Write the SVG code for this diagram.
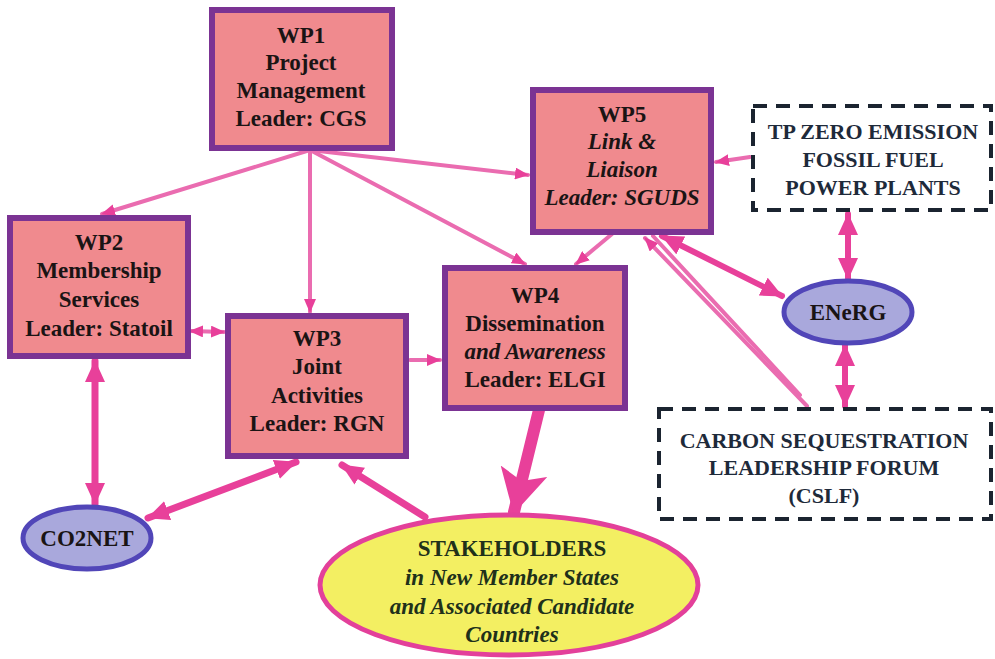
<svg xmlns="http://www.w3.org/2000/svg" width="995" height="659" viewBox="0 0 995 659">
<defs>
<style>
.wp rect{fill:#f08a8e;stroke:#7b3393;stroke-width:6}
text{font-weight:bold;font-size:23px;fill:#1a1414;text-anchor:middle}
.i{font-style:italic}
.dash rect{fill:#ffffff;stroke:#1b2430;stroke-width:4;stroke-dasharray:14 9}
.dash text{fill:#1e2a3a;font-size:22px}
.ov ellipse{fill:#a9a8dc;stroke:#5146b8;stroke-width:5}
.st ellipse{fill:#f3ef62;stroke:#e3409a;stroke-width:5}
.st text{fill:#20301a}
.c{fill:none;stroke:#e8409a;stroke-linecap:round}
.thin{stroke:#ea6cb0;stroke-width:4}
.med{stroke-width:6}
.hvy{stroke-width:7}
</style>
<marker id="s" markerUnits="userSpaceOnUse" markerWidth="14" markerHeight="12" refX="13" refY="6" orient="auto-start-reverse"><path d="M0,0 L14,6 L0,12 z" fill="#e8409a"/></marker>
<marker id="m" markerUnits="userSpaceOnUse" markerWidth="22" markerHeight="20" refX="21" refY="10" orient="auto-start-reverse"><path d="M0,0 L22,10 L0,20 z" fill="#e8409a"/></marker>
<marker id="b" markerUnits="userSpaceOnUse" markerWidth="44" markerHeight="48" refX="42" refY="24" orient="auto"><path d="M0,0 L44,24 L0,48 L10,24 z" fill="#e8409a"/></marker>
</defs>
<rect width="995" height="659" fill="#ffffff"/>

<g id="connectors">
<line class="c thin" x1="310" y1="150" x2="102" y2="214" marker-end="url(#s)"/>
<line class="c thin" x1="310" y1="150" x2="310" y2="312" marker-end="url(#s)"/>
<line class="c thin" x1="310" y1="150" x2="528" y2="175" marker-end="url(#s)"/>
<line class="c thin" x1="310" y1="150" x2="525" y2="264" marker-end="url(#s)"/>
<line class="c thin" x1="612" y1="234" x2="576" y2="264" marker-end="url(#s)"/>
<line class="c thin" x1="750" y1="157" x2="716" y2="162" marker-end="url(#s)"/>
<line class="c thin" x1="190" y1="331" x2="224" y2="332" marker-start="url(#s)" marker-end="url(#s)"/>
<line class="c thin" x1="410" y1="360" x2="440" y2="360" marker-end="url(#s)"/>
<line class="c thin" x1="645" y1="238" x2="807" y2="406" stroke-width="3" marker-start="url(#s)"/>
<line class="c thin" x1="653" y1="236" x2="800" y2="395" stroke-width="2"/>
<line class="c med" x1="662" y1="236" x2="782" y2="296" marker-start="url(#m)" marker-end="url(#m)"/>
<line class="c med" x1="848" y1="214" x2="848" y2="279" marker-start="url(#m)" marker-end="url(#m)"/>
<line class="c med" x1="845" y1="345" x2="845" y2="406" marker-start="url(#m)" marker-end="url(#m)"/>
<line class="c hvy" x1="95" y1="361" x2="95" y2="504" marker-start="url(#m)" marker-end="url(#m)"/>
<line class="c hvy" x1="296" y1="462" x2="148" y2="518" marker-start="url(#m)" marker-end="url(#m)"/>
<line class="c hvy" x1="425" y1="517" x2="342" y2="465" marker-end="url(#m)"/>
<line class="c" x1="539" y1="410" x2="514" y2="512" stroke-width="12" marker-end="url(#b)"/>
</g>

<g font-family="Liberation Serif, DejaVu Serif, serif">
<g id="wp1" class="wp"><rect x="212" y="10" width="180" height="138"/>
<text x="301" y="43">WP1</text><text x="301" y="70">Project</text><text x="301" y="98">Management</text><text x="301" y="126">Leader: CGS</text></g>

<g id="wp2" class="wp"><rect x="10" y="218" width="178" height="138"/>
<text x="99" y="250">WP2</text><text x="99" y="278">Membership</text><text x="99" y="307">Services</text><text x="99" y="336">Leader: Statoil</text></g>

<g id="wp3" class="wp"><rect x="228" y="316" width="178" height="140"/>
<text x="317" y="346">WP3</text><text x="317" y="374">Joint</text><text x="317" y="403">Activities</text><text x="317" y="431">Leader: RGN</text></g>

<g id="wp4" class="wp"><rect x="445" y="268" width="180" height="140"/>
<text x="535" y="303">WP4</text><text x="535" y="331">Dissemination</text><text class="i" x="535" y="359">and Awareness</text><text x="535" y="387">Leader: ELGI</text></g>

<g id="wp5" class="wp"><rect x="533" y="90" width="178" height="142"/>
<text x="622" y="122">WP5</text><text class="i" x="622" y="149">Link &amp;</text><text class="i" x="622" y="177">Liaison</text><text class="i" x="622" y="205">Leader: SGUDS</text></g>

<g id="tp" class="dash"><rect x="753" y="106" width="238" height="104"/>
<text x="873" y="139">TP ZERO EMISSION</text><text x="873" y="167">FOSSIL FUEL</text><text x="873" y="195">POWER PLANTS</text></g>

<g id="cslf" class="dash"><rect x="659" y="409" width="332" height="110"/>
<text x="824" y="448">CARBON SEQUESTRATION</text><text x="824" y="475">LEADERSHIP FORUM</text><text x="824" y="503">(CSLF)</text></g>

<g id="energ" class="ov"><ellipse cx="848" cy="312" rx="64" ry="31"/>
<text x="848" y="320">ENeRG</text></g>

<g id="co2net" class="ov"><ellipse cx="87" cy="538" rx="64" ry="31"/>
<text x="87" y="546">CO2NET</text></g>

<g id="stakeholders" class="st"><ellipse cx="509" cy="585" rx="189" ry="70"/>
<text x="512" y="556">STAKEHOLDERS</text><text class="i" x="512" y="585">in New Member States</text><text class="i" x="512" y="614">and Associated Candidate</text><text class="i" x="512" y="642">Countries</text></g>
</g>
</svg>
